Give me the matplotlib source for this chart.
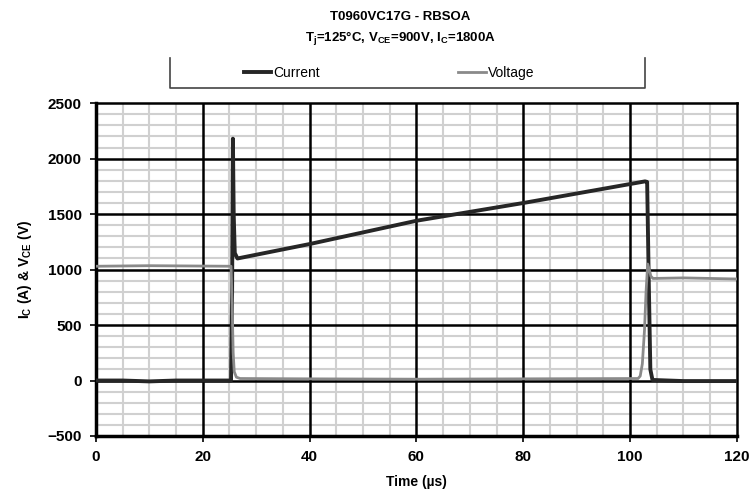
import matplotlib
matplotlib.use("Agg")
import matplotlib.pyplot as plt
from matplotlib.ticker import MultipleLocator
from matplotlib.lines import Line2D

plt.rcParams['font.family'] = ['Liberation Sans', 'DejaVu Sans']
plt.rcParams['mathtext.fontset'] = 'custom'
plt.rcParams['mathtext.rm'] = 'Liberation Sans:bold'
plt.rcParams['mathtext.it'] = 'Liberation Sans:bold'
plt.rcParams['mathtext.bf'] = 'Liberation Sans:bold'

title_lines = ["T0960VC17G - RBSOA", r"T$_j$=125°C, V$_{CE}$=900V, I$_C$=1800A"]

t_current = [0, 5, 10, 15, 20, 25.3, 25.5, 25.65, 25.8, 26.0, 26.5, 40, 60, 80, 102.8, 103.2, 103.5, 103.8, 104.2, 110, 120]
current   = [0, 0, -8, 0, 0, 0, 800, 2180, 1500, 1150, 1100, 1230, 1440, 1600, 1795, 1790, 900, 100, 5, -5, -5]

t_voltage = [0, 10, 25.3, 25.5, 25.7, 25.9, 26.3, 27, 40, 60, 80, 101.5, 101.9, 102.3, 102.7, 103.0, 103.3, 103.6, 103.9, 104.3, 110, 120]
voltage   = [1030, 1035, 1030, 700, 250, 80, 30, 18, 15, 12, 15, 18, 40, 150, 450, 800, 1050, 1000, 940, 920, 925, 915]

fig = plt.figure(figsize=(7.55, 4.96), dpi=100)
ax = fig.add_axes([0.127, 0.121, 0.849, 0.671])

ax.plot(t_current, current, color='#262626', lw=2.8, label='Current', zorder=4)
ax.plot(t_voltage, voltage, color='#8a8a8a', lw=2.0, label='Voltage', zorder=5)

ax.set_xlim(0, 120)
ax.set_ylim(-500, 2500)
ax.xaxis.set_major_locator(MultipleLocator(20))
ax.xaxis.set_minor_locator(MultipleLocator(5))
ax.yaxis.set_major_locator(MultipleLocator(500))
ax.yaxis.set_minor_locator(MultipleLocator(100))
ax.grid(which='minor', color='#d0d0d0', lw=1.5)
ax.grid(which='major', visible=False)
ax.set_axisbelow(True)
for xv in range(20, 120, 20):
    ax.axvline(xv, color='black', lw=1.8, zorder=2)
for yv in range(0, 2500, 500):
    ax.axhline(yv, color='black', lw=1.8, zorder=2)

for s in ['left', 'bottom']:
    ax.spines[s].set_linewidth(2.5)
for s in ['right', 'top']:
    ax.spines[s].set_linewidth(1.8)

ax.tick_params(which='major', direction='out', length=4, width=1.2, labelsize=11, pad=6)
ax.tick_params(which='minor', length=0)
for lab in ax.get_xticklabels() + ax.get_yticklabels():
    lab.set_fontweight('bold')

ax.set_xlabel('Time (µs)', fontsize=10, fontweight='bold', labelpad=8)
ax.set_ylabel(r'I$_\mathrm{C}$ (A) & V$_\mathrm{CE}$ (V)', fontsize=10, fontweight='bold', labelpad=10)

fig.text(0.53, 0.965, title_lines[0], ha='center', va='center', fontsize=9.5, fontweight='bold')
fig.text(0.53, 0.922, title_lines[1], ha='center', va='center', fontsize=9.5, fontweight='bold')

x0, x1 = 170/755, 645/755
y0, y1 = 1 - 88/496, 1 - 58/496
fig.add_artist(Line2D([x0, x0, x1, x1], [y1, y0, y0, y1], transform=fig.transFigure, color='#444444', lw=1.2))

leg = fig.legend(loc='center', bbox_to_anchor=(0.515, 1 - 73/496), ncol=2, frameon=False,
                 fontsize=10, handlelength=2.0, handletextpad=0.1, columnspacing=10)

fig.savefig('out.png', dpi=100)
